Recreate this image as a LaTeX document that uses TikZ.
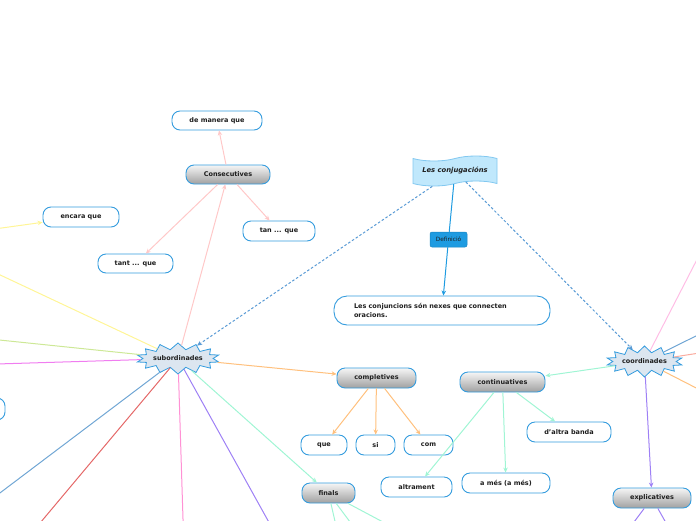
\documentclass[tikz,border=0pt]{standalone}
\usepackage{fontspec}
\setmainfont{DejaVu Sans}
\usetikzlibrary{shapes.symbols,arrows.meta}
\definecolor{nodeblue}{RGB}{52,156,222}
\definecolor{txt}{RGB}{30,30,30}
\definecolor{pinkE}{RGB}{255,200,200}
\definecolor{yellowE}{RGB}{255,245,150}
\definecolor{limeE}{RGB}{205,232,150}
\definecolor{magE}{RGB}{240,125,240}
\definecolor{blueE}{RGB}{112,166,212}
\definecolor{redE}{RGB}{228,104,104}
\definecolor{pink2E}{RGB}{255,145,212}
\definecolor{purpleE}{RGB}{158,128,245}
\definecolor{mintE}{RGB}{160,245,212}
\definecolor{orangeE}{RGB}{255,192,125}
\definecolor{salmonE}{RGB}{250,172,160}
\definecolor{burstfill}{RGB}{220,230,240}
\definecolor{bannerfill}{RGB}{192,232,252}
\definecolor{bannerdraw}{RGB}{130,200,240}
\definecolor{deffill}{RGB}{30,155,225}
\definecolor{dashblue}{RGB}{90,155,213}
\definecolor{gradtop}{RGB}{246,246,246}
\definecolor{gradbot}{RGB}{160,160,160}
\begin{document}
\begin{tikzpicture}[x=1pt,y=-1pt,
  leaf/.style={draw=nodeblue, line width=0.9pt, rounded corners=8pt, fill=white,
    minimum height=20pt, inner sep=0pt, text=txt,
    font=\fontsize{6.5}{7.5}\selectfont\bfseries},
  hub/.style={leaf, top color=gradtop, bottom color=gradbot},
  burst/.style={starburst, draw=nodeblue, line width=0.8pt, fill=burstfill,
    starburst points=14, starburst point height=6.5pt, random starburst=0,
    inner sep=0pt, text=txt, font=\fontsize{6.5}{7.5}\selectfont\bfseries},
  edge/.style={line width=1pt},
  arr/.style={edge, -{Stealth[length=5pt,width=4.5pt]}},
  dashedarr/.style={arr, draw=dashblue, dash pattern=on 2.5pt off 2pt},
]
\useasboundingbox (0,0) rectangle (696,520);

% nodes
\node[leaf, minimum width=90pt, minimum height=19pt] (mq) at (217,120.5) {de manera que};
\node[hub, minimum width=84pt, minimum height=19pt] (cons) at (228,174.5) {Consecutives};
\node[leaf, minimum width=72pt] (tanq) at (279,231) {tan ... que};
\node[leaf, minimum width=76pt] (encq) at (81,217) {encara que};
\node[leaf, minimum width=75pt, minimum height=19pt] (tantq) at (135.5,263.5) {tant ... que};
\node[tape, tape bend top=in and out, tape bend bottom=in and out, tape bend height=5pt,
  draw=bannerdraw, line width=0.8pt, fill=bannerfill, minimum width=84pt, minimum height=30pt,
  inner sep=0pt, text=txt, font=\fontsize{6.8}{8}\selectfont\bfseries\itshape] (conj) at (455,171) {Les conjugacións};
\node[draw=deffill!85!black, line width=0.5pt, fill=deffill, rounded corners=2pt, minimum width=37pt,
  minimum height=15pt, inner sep=0pt, text=txt, font=\fontsize{5.8}{7}\selectfont] (defn) at (448.5,239.5) {Definició};
\node[leaf, rounded corners=13pt, minimum height=29pt, text width=176pt, inner xsep=20pt, align=left,
  font=\fontsize{6.5}{9}\selectfont\bfseries] (defbox) at (442,310.5) {Les conjuncions són nexes que connecten\\oracions.};
\node[burst, minimum width=82pt, minimum height=31pt] (sub) at (178,358.5) {subordinades};
\node[burst, minimum width=75pt, minimum height=31pt] (coord) at (644.5,361.5) {coordinades};
\node[hub, minimum width=79pt] (compl) at (376.5,378) {completives};
\node[leaf, minimum width=46pt] (que) at (324,445) {que};
\node[leaf, minimum width=39pt] (si) at (375.5,445) {si};
\node[leaf, minimum width=49pt] (com) at (428.5,445) {com};
\node[hub, minimum width=53pt] (finals) at (328.5,493) {finals};
\node[leaf, minimum width=71pt] (altr) at (416.5,487) {altrament};
\node[hub, minimum width=85pt] (cont) at (502.5,382) {continuatives};
\node[leaf, minimum width=84pt] (dab) at (569,432) {d’altra banda};
\node[leaf, minimum width=88pt] (ames) at (506,483) {a més (a més)};
\node[hub, minimum width=78pt] (expl) at (652,498) {explicatives};
\node[leaf, minimum width=80pt, minimum height=22pt] (leftnode) at (-35,409) {};

% free ends
\coordinate (yfree) at (-20,265.5);
\coordinate (yin) at (-20,231);
\coordinate (limefree) at (-20,338);
\coordinate (magfree) at (-20,364.5);
\coordinate (bluefree) at (-20,508);
\coordinate (redfree) at (30,535);
\coordinate (pinkfree) at (183.5,535);
\coordinate (purplefree) at (276,535);
\coordinate (cpink) at (706,242);
\coordinate (cblue) at (706,331);
\coordinate (csalmon) at (706,352);
\coordinate (corange) at (706,393);
\coordinate (ex1) at (628,530);
\coordinate (ex2) at (670,530);
\coordinate (fi1) at (337,530);
\coordinate (fi2) at (356,530);
\coordinate (fi3) at (398,530);

% conjugacions edges
\draw[dashedarr] (conj) -- (sub);
\draw[dashedarr] (conj) -- (coord);
\draw[edge, draw=deffill] (conj) -- (defn);
\draw[arr, draw=deffill] (defn) -- (defbox);

% subordinades edges
\draw[arr, draw=pinkE] (sub) -- (cons);
\draw[arr, draw=pinkE] (cons) -- (mq);
\draw[arr, draw=pinkE] (cons) -- (tanq);
\draw[arr, draw=pinkE] (cons) -- (tantq);
\draw[edge, draw=yellowE] (sub) -- (yfree);
\draw[arr, draw=yellowE] (yin) -- (encq);
\draw[edge, draw=limeE] (sub) -- (limefree);
\draw[edge, draw=magE] (sub) -- (magfree);
\draw[edge, draw=blueE] (sub) -- (bluefree);
\draw[edge, draw=redE] (sub) -- (redfree);
\draw[edge, draw=pink2E] (sub) -- (pinkfree);
\draw[edge, draw=purpleE] (sub) -- (purplefree);
\draw[arr, draw=mintE] (sub) -- (finals);
\draw[arr, draw=orangeE] (sub) -- (compl);
\draw[arr, draw=orangeE] (compl) -- (que);
\draw[arr, draw=orangeE] (compl) -- (si);
\draw[arr, draw=orangeE] (compl) -- (com);
\draw[edge, draw=mintE] (finals) -- (fi1);
\draw[edge, draw=mintE] (finals) -- (fi2);
\draw[edge, draw=mintE] (finals) -- (fi3);

% coordinades edges
\draw[arr, draw=mintE] (coord) -- (cont);
\draw[arr, draw=mintE] (cont) -- (dab);
\draw[arr, draw=mintE] (cont) -- (ames);
\draw[arr, draw=mintE] (cont) -- (altr);
\draw[arr, draw=purpleE] (coord) -- (expl);
\draw[edge, draw=purpleE] (expl) -- (ex1);
\draw[edge, draw=purpleE] (expl) -- (ex2);
\draw[edge, draw=pink2E!60] (coord) -- (cpink);
\draw[edge, draw=blueE] (coord) -- (cblue);
\draw[edge, draw=salmonE] (coord) -- (csalmon);
\draw[edge, draw=orangeE] (coord) -- (corange);
\end{tikzpicture}
\end{document}
